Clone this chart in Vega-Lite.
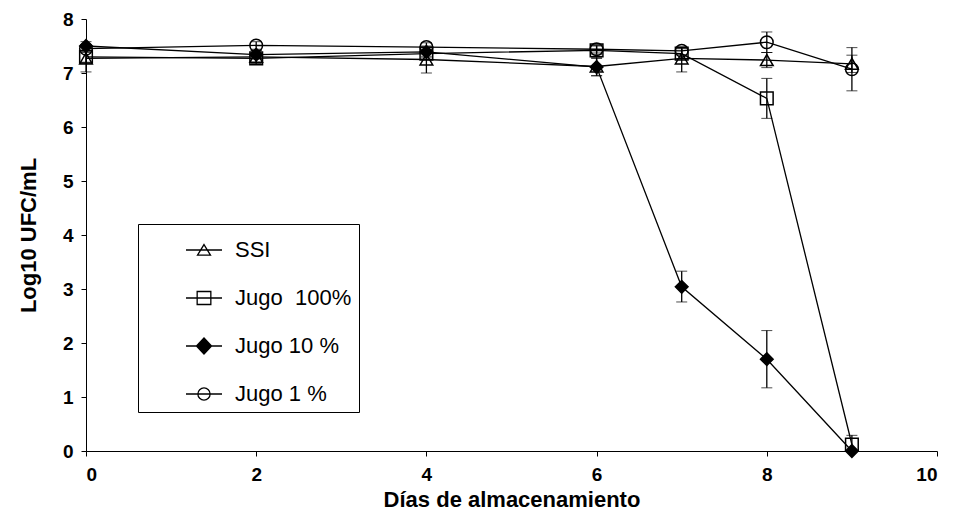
{
  "$schema": "https://vega.github.io/schema/vega-lite/v6.json",
  "autosize": "none",
  "width": 851,
  "height": 432,
  "padding": {"left": 86, "top": 19, "right": 19, "bottom": 67},
  "background": "white",
  "config": {
    "font": "Liberation Sans",
    "view": {"stroke": null},
    "axis": {
      "grid": false,
      "domainColor": "black",
      "tickColor": "black",
      "tickSize": 5,
      "labelFont": "Liberation Sans",
      "labelFontWeight": "bold",
      "labelFontSize": 19,
      "labelColor": "black",
      "titleFont": "Liberation Sans",
      "titleFontWeight": "bold",
      "titleFontSize": 22,
      "titleColor": "black"
    }
  },
  "data": {
    "values": [
      {"day": 0, "series": "SSI", "val": 7.27, "lo": 7.02, "hi": 7.52},
      {"day": 2, "series": "SSI", "val": 7.30, "lo": 7.18, "hi": 7.42},
      {"day": 4, "series": "SSI", "val": 7.25, "lo": 7.00, "hi": 7.50},
      {"day": 6, "series": "SSI", "val": 7.12, "lo": 6.95, "hi": 7.29},
      {"day": 7, "series": "SSI", "val": 7.27, "lo": 7.02, "hi": 7.45},
      {"day": 8, "series": "SSI", "val": 7.24, "lo": 7.10, "hi": 7.38},
      {"day": 9, "series": "SSI", "val": 7.17, "lo": 7.01, "hi": 7.33},
      {"day": 0, "series": "Jugo\u00a0 100%", "val": 7.30, "lo": 7.20, "hi": 7.40},
      {"day": 2, "series": "Jugo\u00a0 100%", "val": 7.27, "lo": 7.17, "hi": 7.37},
      {"day": 4, "series": "Jugo\u00a0 100%", "val": 7.36, "lo": 7.28, "hi": 7.44},
      {"day": 6, "series": "Jugo\u00a0 100%", "val": 7.42, "lo": 7.34, "hi": 7.50},
      {"day": 7, "series": "Jugo\u00a0 100%", "val": 7.36, "lo": 7.26, "hi": 7.46},
      {"day": 8, "series": "Jugo\u00a0 100%", "val": 6.53, "lo": 6.16, "hi": 6.90},
      {"day": 9, "series": "Jugo\u00a0 100%", "val": 0.12, "lo": 0.00, "hi": 0.29},
      {"day": 0, "series": "Jugo 10 %", "val": 7.50, "lo": 7.42, "hi": 7.58},
      {"day": 2, "series": "Jugo 10 %", "val": 7.34, "lo": 7.26, "hi": 7.42},
      {"day": 4, "series": "Jugo 10 %", "val": 7.39, "lo": 7.31, "hi": 7.47},
      {"day": 6, "series": "Jugo 10 %", "val": 7.11, "lo": 6.95, "hi": 7.27},
      {"day": 7, "series": "Jugo 10 %", "val": 3.04, "lo": 2.76, "hi": 3.33},
      {"day": 8, "series": "Jugo 10 %", "val": 1.70, "lo": 1.17, "hi": 2.23},
      {"day": 9, "series": "Jugo 10 %", "val": 0.00, "lo": 0.00, "hi": 0.00},
      {"day": 0, "series": "Jugo 1 %", "val": 7.45, "lo": 7.38, "hi": 7.52},
      {"day": 2, "series": "Jugo 1 %", "val": 7.51, "lo": 7.44, "hi": 7.58},
      {"day": 4, "series": "Jugo 1 %", "val": 7.48, "lo": 7.40, "hi": 7.56},
      {"day": 6, "series": "Jugo 1 %", "val": 7.44, "lo": 7.37, "hi": 7.51},
      {"day": 7, "series": "Jugo 1 %", "val": 7.41, "lo": 7.34, "hi": 7.48},
      {"day": 8, "series": "Jugo 1 %", "val": 7.57, "lo": 7.38, "hi": 7.76},
      {"day": 9, "series": "Jugo 1 %", "val": 7.07, "lo": 6.67, "hi": 7.47}
    ]
  },
  "encoding": {
    "x": {
      "field": "day", "type": "quantitative",
      "scale": {"domain": [0, 10], "nice": false, "zero": false},
      "axis": {"values": [0, 2, 4, 6, 8, 10], "title": "Días de almacenamiento", "labelPadding": 9, "titlePadding": 5}
    }
  },
  "layer": [
    {
      "mark": {"type": "line", "color": "black", "strokeWidth": 1.3},
      "encoding": {
        "y": {
          "field": "val", "type": "quantitative",
          "scale": {"domain": [0, 8], "nice": false},
          "axis": {"values": [0, 1, 2, 3, 4, 5, 6, 7, 8], "title": "Log10 UFC/mL", "labelPadding": 8, "titlePadding": 22}
        },
        "detail": {"field": "series"}
      }
    },
    {
      "mark": {"type": "errorbar", "color": "black", "ticks": {"size": 11, "color": "black", "strokeWidth": 1.5}, "rule": {"strokeWidth": 1.3}},
      "encoding": {
        "y": {"field": "lo", "type": "quantitative", "title": "Log10 UFC/mL"},
        "y2": {"field": "hi"}
      }
    },
    {
      "mark": {"type": "point", "stroke": "black", "strokeWidth": 1.5, "size": 160, "opacity": 1},
      "encoding": {
        "y": {"field": "val", "type": "quantitative"},
        "shape": {
          "field": "series", "type": "nominal", "legend": null,
          "scale": {"domain": ["SSI", "Jugo\u00a0 100%", "Jugo 10 %", "Jugo 1 %"], "range": ["triangle-up", "square", "diamond", "circle"]}
        },
        "fill": {
          "field": "series", "type": "nominal", "legend": null,
          "scale": {"domain": ["SSI", "Jugo\u00a0 100%", "Jugo 10 %", "Jugo 1 %"], "range": ["transparent", "transparent", "black", "transparent"]}
        }
      }
    },
    {
      "mark": {"type": "point", "opacity": 0, "stroke": "black", "filled": false},
      "encoding": {
        "y": {"field": "val", "type": "quantitative"},
        "shape": {
          "field": "series", "type": "nominal",
          "scale": {"domain": ["SSI", "Jugo\u00a0 100%", "Jugo 10 %", "Jugo 1 %"], "range": [
            "M-1,0H1M0,-0.3L0.36,0.28L-0.36,0.28Z",
            "M-1,0H1M-0.38,-0.36H0.38V0.36H-0.38Z",
            "M-1,0H1M0,-0.45L0.42,0L0,0.45L-0.42,0ZM0,-0.39L0.36,0L0,0.39L-0.36,0ZM0,-0.32L0.3,0L0,0.32L-0.3,0ZM0,-0.26L0.24,0L0,0.26L-0.24,0ZM0,-0.19L0.18,0L0,0.19L-0.18,0ZM0,-0.13L0.12,0L0,0.13L-0.12,0ZM0,-0.06L0.06,0L0,0.06L-0.06,0Z",
            "M-1,0H1M0.34,0A0.34,0.34 0 1,1 -0.34,0A0.34,0.34 0 1,1 0.34,0Z"
          ]},
          "legend": {
            "title": null, "orient": "none", "legendX": 52, "legendY": 205,
            "strokeColor": "black", "fillColor": "white", "padding": 7,
            "symbolSize": 1296, "symbolOpacity": 1, "symbolStrokeColor": "black", "symbolStrokeWidth": 1.3,
            "symbolOffset": 40, "labelOffset": 12, "rowPadding": 18,
            "labelFont": "Liberation Sans", "labelFontSize": 22, "labelColor": "black", "labelLimit": 300
          }
        }
      }
    }
  ],
  "resolve": {"scale": {"shape": "independent", "fill": "independent"}, "legend": {"shape": "independent"}}
}
